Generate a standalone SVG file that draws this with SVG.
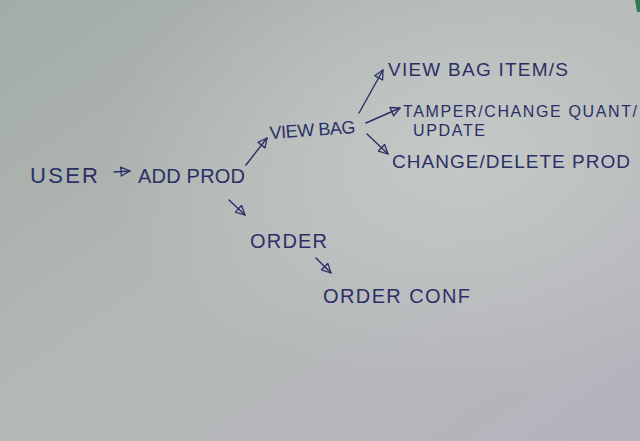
<svg xmlns="http://www.w3.org/2000/svg" width="640" height="441" viewBox="0 0 640 441">
  <defs>
    <linearGradient id="bg" x1="0" y1="0" x2="1" y2="1">
      <stop offset="0" stop-color="#a3aca6"/>
      <stop offset="0.5" stop-color="#b4b9b7"/>
      <stop offset="1" stop-color="#b6b2bd"/>
    </linearGradient>
    <radialGradient id="hl" cx="0.72" cy="0.35" r="0.55">
      <stop offset="0" stop-color="#c8cdcb" stop-opacity="0.8"/>
      <stop offset="1" stop-color="#c8cdcb" stop-opacity="0"/>
    </radialGradient>
    <marker id="tri" viewBox="0 0 12 12" refX="10" refY="6" markerWidth="12" markerHeight="12" markerUnits="userSpaceOnUse" orient="auto">
      <path d="M1,1.5 L10,6 L1,10.5 Z" fill="none" stroke="#2b2f66" stroke-width="1.3" stroke-linejoin="round"/>
    </marker>
    <style>
      text { font-family: "Liberation Sans", "DejaVu Sans", sans-serif; fill: #2b2f66; }
      .s22 { font-size: 22px; }
      .s20 { font-size: 20px; }
      .s19 { font-size: 19px; }
      .s18 { font-size: 18px; }
      .s16 { font-size: 16px; }
      .c { fill: none; stroke: #2b2f66; stroke-width: 1.4; stroke-linecap: round; marker-end: url(#tri); }
    </style>
  </defs>
  <rect width="640" height="441" fill="url(#bg)"/>
  <rect width="640" height="441" fill="url(#hl)"/>
  <path d="M635,0 L640,0 L640,12 L637,12 Z" fill="#2f7a52"/>

  <g id="connectors">
    <line class="c" x1="114" y1="172" x2="130" y2="171"/>
    <line class="c" x1="246" y1="165" x2="267" y2="138"/>
    <line class="c" x1="359" y1="113" x2="383" y2="70"/>
    <line class="c" x1="366" y1="123" x2="400" y2="108"/>
    <line class="c" x1="367" y1="134" x2="388" y2="154"/>
    <line class="c" x1="229" y1="200" x2="245" y2="215"/>
    <line class="c" x1="316" y1="258" x2="331" y2="273"/>
  </g>

  <g id="user"><text class="s22" x="30" y="183" textLength="68" lengthAdjust="spacing">USER</text></g>
  <g id="add-prod"><text class="s20" x="138" y="183" textLength="107" lengthAdjust="spacing">ADD PROD</text></g>
  <g id="view-bag"><text class="s18" x="270" y="139" textLength="86" lengthAdjust="spacing" transform="rotate(-4 270 139)">VIEW BAG</text></g>
  <g id="view-bag-items"><text class="s19" x="388" y="76" textLength="180" lengthAdjust="spacing">VIEW BAG ITEM/S</text></g>
  <g id="tamper"><text class="s16" x="403" y="117" textLength="234" lengthAdjust="spacing">TAMPER/CHANGE QUANT/</text>
    <text class="s16" x="413" y="136" textLength="72" lengthAdjust="spacing">UPDATE</text></g>
  <g id="change-delete"><text class="s19" x="392" y="168" textLength="238" lengthAdjust="spacing">CHANGE/DELETE PROD</text></g>
  <g id="order"><text class="s20" x="250" y="248" textLength="77" lengthAdjust="spacing">ORDER</text></g>
  <g id="order-conf"><text class="s20" x="323" y="303" textLength="147" lengthAdjust="spacing">ORDER CONF</text></g>
</svg>
